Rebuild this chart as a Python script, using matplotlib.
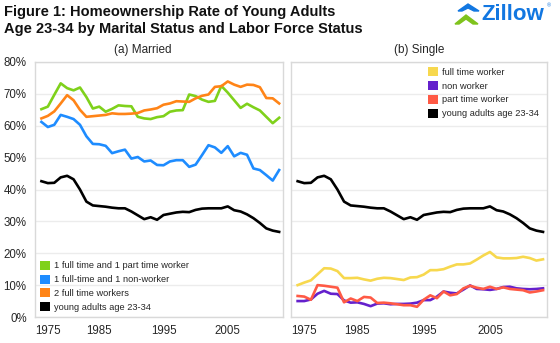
import numpy as np
import matplotlib
matplotlib.use("Agg")
import matplotlib.pyplot as plt
from matplotlib.patches import Polygon, Patch

plt.rcParams['font.family'] = ['Liberation Sans', 'DejaVu Sans']

years = list(range(1976, 2014))

# married panel
ft_pt = [65.2, 66.0, 69.7, 73.3, 71.8, 71.1, 72.0, 69.0, 65.4, 66.0,
         64.4, 65.3, 66.4, 66.2, 66.1, 62.8, 62.3, 62.1, 62.7, 63.0,
         64.4, 64.8, 64.9, 69.8, 69.3, 68.2, 67.5, 67.8, 72.5, 70.4,
         68.0, 65.6, 66.9, 65.8, 64.8, 62.8, 60.8, 62.5]
ft_nw = [61.2, 59.6, 60.3, 63.4, 62.8, 62.1, 60.3, 56.7, 54.3, 54.2,
         53.7, 51.4, 52.0, 52.5, 49.7, 50.2, 48.8, 49.1, 47.7, 47.6,
         48.8, 49.2, 49.2, 47.1, 47.8, 50.8, 53.9, 53.2, 51.5, 53.6,
         50.4, 51.5, 50.9, 46.6, 46.1, 44.5, 42.8, 46.1]
ft_ft = [62.3, 63.1, 64.5, 67.0, 69.6, 68.0, 65.0, 62.8, 63.0, 63.2,
         63.4, 63.9, 63.7, 63.7, 63.8, 64.0, 64.8, 65.1, 65.5, 66.6,
         67.0, 67.7, 67.6, 67.5, 68.6, 69.4, 69.8, 72.2, 72.4, 73.9,
         72.9, 72.2, 72.9, 72.8, 72.1, 68.7, 68.6, 67.0]
all_young = [42.6, 42.0, 42.1, 43.8, 44.3, 43.2, 40.0, 36.2, 35.0, 34.8,
             34.6, 34.3, 34.1, 34.1, 33.1, 31.9, 30.7, 31.3, 30.5, 32.0,
             32.4, 32.8, 33.0, 32.9, 33.6, 34.0, 34.1, 34.1, 34.1, 34.7,
             33.5, 33.1, 32.2, 31.0, 29.5, 27.8, 27.1, 26.7]

# single panel
s_full = [10.0, 10.8, 11.5, 13.4, 15.3, 15.2, 14.4, 12.2, 12.2, 12.3,
          11.8, 11.4, 12.0, 12.3, 12.2, 11.9, 11.6, 12.4, 12.5, 13.3,
          14.7, 14.7, 15.0, 15.8, 16.5, 16.5, 16.8, 18.0, 19.3, 20.4,
          18.7, 18.4, 18.4, 18.5, 18.9, 18.5, 17.7, 18.1]
s_non = [5.0, 5.0, 5.5, 7.3, 8.2, 7.3, 7.2, 5.2, 4.5, 4.6,
         4.1, 3.4, 4.2, 4.3, 4.0, 4.1, 4.1, 4.2, 4.5, 5.3,
         5.3, 6.4, 8.0, 7.6, 7.4, 8.6, 9.9, 8.8, 8.7, 8.5,
         8.8, 9.4, 9.5, 9.0, 8.8, 8.7, 8.8, 9.0]
s_part = [6.6, 6.4, 5.4, 10.0, 9.8, 9.5, 9.2, 4.6, 5.8, 5.0,
          6.3, 6.1, 4.4, 4.5, 4.3, 4.0, 3.7, 3.7, 3.2, 5.4,
          6.8, 5.9, 8.0, 6.8, 7.2, 9.0, 9.8, 9.2, 8.8, 9.5,
          8.8, 9.3, 8.8, 8.6, 8.4, 7.7, 8.0, 8.4]

yticks = list(range(0, 81, 10))
xticks = [1975, 1985, 1995, 2005]

green = '#7fd11b'
blue = '#1e8cff'
orange = '#ff8417'
yellow = '#f7d84e'
purple = '#6420cc'
red = '#ff5a45'
grid_c = '#ececec'
box_c = '#d9d9d9'
txt_c = '#262626'

fig = plt.figure(figsize=(5.6, 3.43), dpi=100)
ax1 = fig.add_axes([35/560, 26/343, 248/560, 255/343])
ax2 = fig.add_axes([291/560, 26/343, 256/560, 255/343])

lw = 1.9
married = [(ft_pt, green, '1 full time and 1 part time worker'),
           (ft_nw, blue, '1 full-time and 1 non-worker'),
           (ft_ft, orange, '2 full time workers'),
           (all_young, 'black', 'young adults age 23-34')]
single = [(s_full, yellow, 'full time worker'),
          (s_non, purple, 'non worker'),
          (s_part, red, 'part time worker'),
          (all_young, 'black', 'young adults age 23-34')]

legend_pos = {
    'ax1': dict(loc='lower left', bbox_to_anchor=(0.0, 0.0)),
    'ax2': dict(loc='upper left', bbox_to_anchor=(0.515, 1.0)),
}

for ax, series, key in ((ax1, married, 'ax1'), (ax2, single, 'ax2')):
    for vals, col, lab in series:
        ax.plot(years, vals, color=col, lw=lw)
    handles = [Patch(facecolor=col, edgecolor='none', label=lab) for _, col, lab in series]
    leg = ax.legend(handles=handles, fontsize=6.7, frameon=False,
                    handlelength=1.1, handleheight=1.1, handletextpad=0.4,
                    labelspacing=0.45, borderaxespad=0.15, **legend_pos[key])
    for t in leg.get_texts():
        t.set_color(txt_c)
    ax.set_xlim(1975, 2013.6)
    ax.set_ylim(0, 80)
    ax.set_yticks(yticks)
    ax.grid(axis='y', color=grid_c, lw=1)
    ax.set_axisbelow(True)
    for s in ax.spines.values():
        s.set_color(box_c)
        s.set_linewidth(1)
    ax.set_xticks(xticks)
    ax.set_xticklabels([str(t) for t in xticks])
    ax.tick_params(length=0, labelsize=8.3, colors=txt_c, pad=6)
    # the 1975 label sits at the axis left edge
    ax.get_xticklabels()[0].set_horizontalalignment('left')

ax1.set_yticklabels([f'{t}%' for t in yticks])
ax2.set_yticklabels([])

fig.text(4/560, 1 - 12/343, 'Figure 1: Homeownership Rate of Young Adults',
         fontsize=10.5, fontweight='bold', va='center', color='#111111')
fig.text(4/560, 1 - 29/343, 'Age 23-34 by Marital Status and Labor Force Status',
         fontsize=10.5, fontweight='bold', va='center', color='#111111')
fig.text(143/560, 1 - 50/343, '(a) Married', fontsize=8.5, ha='center', va='center', color=txt_c)
fig.text(419/560, 1 - 50/343, '(b) Single', fontsize=8.5, ha='center', va='center', color=txt_c)

# Zillow logo
fig.text(481/560, 1 - 14/343, 'Zillow', fontsize=16, fontweight='bold', color='#1277e1',
         va='center', ha='left')
fig.text(547/560, 1 - 6/343, '®', fontsize=4, color='#1277e1', va='center')
icon_g = Polygon([[455, 24], [466, 15], [478, 24], [473, 24], [466, 19], [459, 24]],
                 closed=True, color='#7fc31c', transform=None)
icon_b = Polygon([[458, 11], [468, 4], [479, 11], [474, 11], [468, 8], [462, 11]],
                 closed=True, color='#1277e1', transform=None)
for p in (icon_g, icon_b):
    xy = p.get_xy()
    xy[:, 1] = 343 - xy[:, 1]
    p.set_xy(xy)
    fig.patches.append(p)

fig.savefig('out.png', dpi=100)
